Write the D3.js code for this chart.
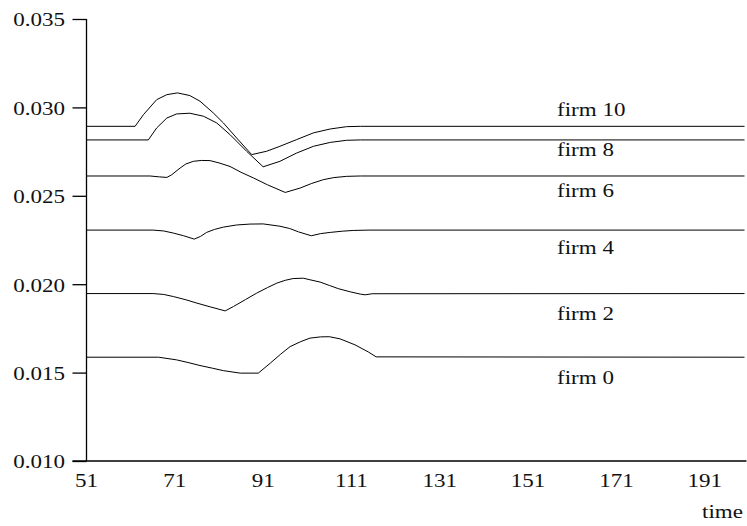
<!DOCTYPE html>
<html>
<head>
<meta charset="utf-8">
<script src="https://cdn.jsdelivr.net/npm/d3@7"></script>
<style>
  html, body { margin: 0; padding: 0; background: #fff; }
  svg { display: block; }
  svg text { font-family: "Liberation Serif", "DejaVu Serif", serif; font-size: 18px; fill: #111; }
</style>
</head>
<body>
<svg id="chart" width="747" height="526"></svg>
<script>
// Share paths of each firm over time: [time, share]
const firm10 = [[51,.02893],[62,.02893],[63.9,.02959],[66.9,.03044],[69.2,.03072],[71.6,.03082],[74.4,.03067],[76.7,.03035],[79.7,.02969],[82,.02912],[85,.02827],[88.4,.02733],[91.8,.02752],[94.8,.02780],[98.6,.02818],[102.4,.02856],[106.2,.02878],[109.9,.02891],[113,.02893],[200,.02893]];
const firm8 = [[51,.02816],[65,.02816],[66.9,.02884],[69.2,.02940],[71.4,.02963],[74.4,.02967],[77.5,.02950],[80.5,.02912],[83.5,.02846],[87.3,.02751],[91,.02664],[94.8,.02695],[98.6,.02742],[102.4,.02780],[106.2,.02802],[109.9,.02814],[113,.02816],[200,.02816]];
const firm6 = [[51,.02612],[65.4,.02612],[67.5,.02607],[69.2,.02604],[70.3,.02619],[72.2,.02657],[73.5,.02680],[75.2,.02695],[77,.02700],[79,.02699],[81,.02686],[83.5,.02666],[86,.02633],[88.8,.02601],[92,.02562],[96,.02519],[99.4,.02544],[102,.02570],[104.6,.02591],[107,.02603],[109.9,.02610],[113,.02612],[200,.02612]];
const firm4 = [[51,.02306],[66.1,.02306],[68.5,.02301],[70.7,.02289],[73,.02274],[75.4,.02255],[76.8,.02270],[78.2,.02293],[80,.02310],[82,.02323],[85,.02335],[88,.02340],[91,.02341],[94.8,.02328],[97,.02315],[99,.02296],[101.9,.02274],[104,.02286],[106.2,.02293],[109,.02300],[111.4,.02304],[115,.02306],[200,.02306]];
const firm2 = [[51,.01947],[66.1,.01947],[68.5,.01942],[70.7,.01930],[73.5,.01912],[76,.01893],[79,.01872],[82.4,.01849],[84.3,.01874],[87,.01913],[89.5,.01949],[92,.01981],[94.1,.02006],[96,.02022],[97.8,.02032],[100.1,.02034],[101.6,.02025],[103.9,.02012],[106,.01993],[108,.01975],[110.7,.01957],[113,.01944],[114.1,.01940],[115.7,.01946],[200,.01947]];
const firm0 = [[51,.01587],[67.3,.01587],[71.4,.01572],[74,.01557],[76.7,.01540],[79.5,.01525],[82,.01511],[85.8,.01497],[89.9,.01497],[92.6,.01553],[95,.01605],[97.1,.01647],[99.5,.01675],[101.6,.01695],[104,.01702],[106,.01703],[108.4,.01691],[111.8,.01657],[114.8,.01617],[116.6,.01589],[200,.01587]];

const firmNames = ["firm 10", "firm 8", "firm 6", "firm 4", "firm 2", "firm 0"];
const firmSeries = [firm10, firm8, firm6, firm4, firm2, firm0];

const xTicks = [51, 71, 91, 111, 131, 151, 171, 191];
const yTicks = [0.010, 0.015, 0.020, 0.025, 0.030, 0.035];
const xDomain = [51, 200];
const yDomain = [0.010, 0.035];
const xTitle = "time";

// ---- layout ----
const svg = d3.select("#chart");
const plotLeft = 86.5, plotRight = 744.5, plotTop = 19, plotBottom = 461;
const stretch = 1.28; // wide-set serif lettering

const x = d3.scaleLinear().domain(xDomain).range([plotLeft, plotRight]);
const y = d3.scaleLinear().domain(yDomain).range([plotBottom, plotTop]);

function label(g, tx, ty, str, anchor) {
  return g.append("text")
    .attr("transform", `translate(${tx},${ty}) scale(${stretch},1)`)
    .attr("text-anchor", anchor)
    .text(str);
}

// y axis
const yAxis = svg.append("g")
  .attr("transform", `translate(${plotLeft},0)`)
  .call(d3.axisLeft(y).tickValues(yTicks).tickSize(14).tickFormat(""));
yAxis.select(".domain").attr("d", `M0,${y(yDomain[1])}V${y(yDomain[0])}`);
yAxis.selectAll("line, path").attr("stroke", "#000").attr("stroke-width", 1.3);
yTicks.forEach(v => label(svg, plotLeft - 21.5, y(v) + 7.3, d3.format(".3f")(v), "end"));

// x axis (no tick marks)
const xAxis = svg.append("g")
  .attr("transform", `translate(0,${plotBottom})`)
  .call(d3.axisBottom(x).tickValues(xTicks).tickSize(0).tickFormat(""));
xAxis.select(".domain").attr("d", `M${plotLeft - 14},0H${plotRight + 2}`);
xAxis.selectAll("line, path").attr("stroke", "#000").attr("stroke-width", 1.3);
xTicks.forEach(t => label(svg, x(t), 486.5, String(t), "middle"));
label(svg, 743, 518, xTitle, "end");

// firm share paths
const line = d3.line().x(d => x(d[0])).y(d => y(d[1])).curve(d3.curveLinear);
svg.append("g").selectAll("path")
  .data(firmSeries)
  .join("path")
  .attr("d", line)
  .attr("fill", "none")
  .attr("stroke", "#000")
  .attr("stroke-width", 1)
  .attr("stroke-linejoin", "round");

// labels beside the flat tails
const labelOffsets = [-10.7, 15.7, 21.5, 23.7, 26.3, 26.7];
firmSeries.forEach((s, i) => {
  const flat = s[s.length - 1][1];
  label(svg, 557, y(flat) + labelOffsets[i], firmNames[i], "start");
});
</script>
</body>
</html>
